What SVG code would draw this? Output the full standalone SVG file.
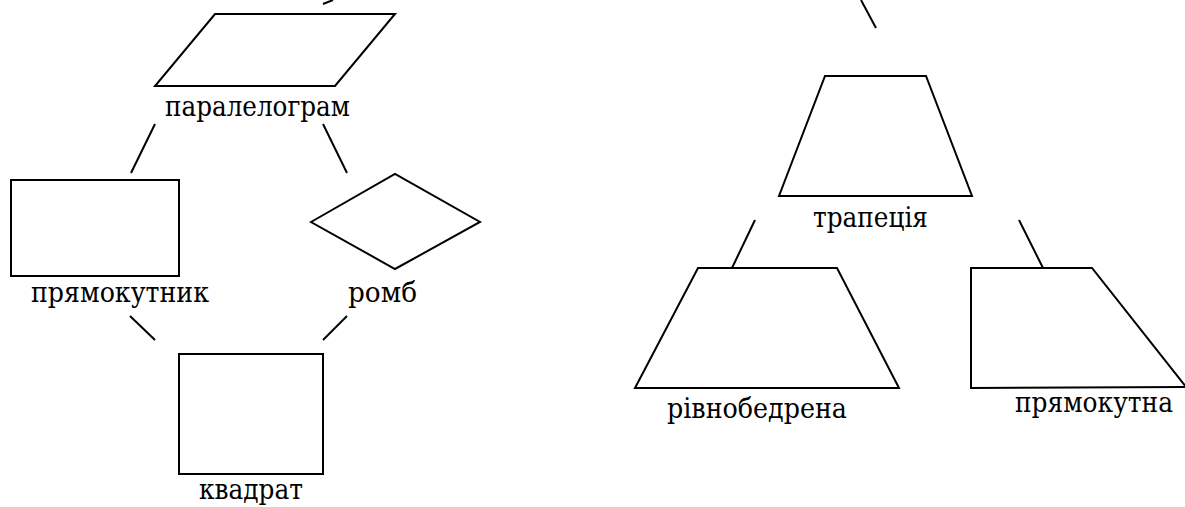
<svg xmlns="http://www.w3.org/2000/svg" width="1185" height="507" viewBox="0 0 1185 507">
<style>
.s{fill:none;stroke:#000;stroke-width:2;stroke-linejoin:miter}
.c{stroke:#000;stroke-width:2;fill:none}
text{font-family:'DejaVu Serif','Liberation Serif',serif;font-size:28px;fill:#000}
</style>
<rect width="1185" height="507" fill="#fff"/>
<g id="connectors">
<line class="c" x1="323" y1="4" x2="333" y2="0"/>
<line class="c" x1="155" y1="124" x2="131" y2="173"/>
<line class="c" x1="323" y1="124" x2="347" y2="173"/>
<line class="c" x1="130" y1="316" x2="155" y2="340"/>
<line class="c" x1="347" y1="316" x2="323" y2="340"/>
<line class="c" x1="861" y1="0" x2="876" y2="28"/>
<line class="c" x1="755" y1="220" x2="732" y2="268"/>
<line class="c" x1="1019" y1="220" x2="1043" y2="268"/>
</g>
<g id="parallelogram">
<polygon class="s" points="215,14 395,14 335,86 155,86"/>
<text x="165" y="116" textLength="185" lengthAdjust="spacingAndGlyphs">паралелограм</text>
</g>
<g id="rectangle">
<rect class="s" x="11" y="180" width="168" height="96"/>
<text x="31" y="302" textLength="178" lengthAdjust="spacingAndGlyphs">прямокутник</text>
</g>
<g id="rhombus">
<polygon class="s" points="311,222 395,174 480,222 395,269"/>
<text x="348" y="302" textLength="69" lengthAdjust="spacingAndGlyphs">ромб</text>
</g>
<g id="square">
<rect class="s" x="179" y="354" width="144" height="120"/>
<text x="199" y="499" textLength="104" lengthAdjust="spacingAndGlyphs">квадрат</text>
</g>
<g id="trapezoid">
<polygon class="s" points="825,76 926,76 972,196 779,196"/>
<text x="813" y="227" textLength="115" lengthAdjust="spacingAndGlyphs">трапеція</text>
</g>
<g id="isosceles">
<polygon class="s" points="698,268 837,268 899,388 635,388"/>
<text x="667" y="418" textLength="180" lengthAdjust="spacingAndGlyphs">рівнобедрена</text>
</g>
<g id="right-trapezoid">
<polygon class="s" points="971,268 1092,268 1186,387 971,388"/>
<text x="1015" y="412" textLength="158" lengthAdjust="spacingAndGlyphs">прямокутна</text>
</g>
</svg>
